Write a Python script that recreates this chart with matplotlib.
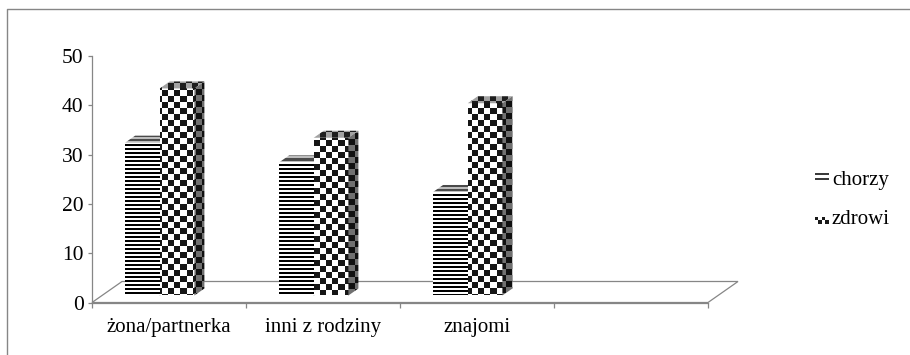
import numpy as np
import matplotlib
matplotlib.use("Agg")
import matplotlib.pyplot as plt
from matplotlib.patches import Polygon, Rectangle
from matplotlib.colors import ListedColormap

# ---- data -------------------------------------------------------------
categories = ["żona/partnerka", "inni z rodziny", "znajomi", ""]
series_names = ["chorzy", "zdrowi"]
chorzy = [31, 27, 21]
zdrowi = [42, 32, 39]
y_ticks = [0, 10, 20, 30, 40, 50]

# ---- figure / axes ----------------------------------------------------
W, H, DPI = 910, 355, 100
plt.rcParams["font.family"] = ["Liberation Serif", "DejaVu Serif"]
fig = plt.figure(figsize=(W / DPI, H / DPI), dpi=DPI)
fig.patch.set_facecolor("white")

X0, X1, Y0, Y1 = 92, 708, 302.5, 56          # plot box in pixels
ax = fig.add_axes([X0 / W, 1 - Y0 / H, (X1 - X0) / W, (Y0 - Y1) / H])
ax.set_xlim(-0.5, len(categories) - 0.5)
ax.set_ylim(y_ticks[0], y_ticks[-1])
ax.set_autoscale_on(False)
ax.patch.set_alpha(0)

sx = (X1 - X0) / len(categories)              # px per category
sy = (Y0 - Y1) / (y_ticks[-1] - y_ticks[0])   # px per value unit

# floor depth (oblique projection) in data units
DX, DY = 30 / sx, 21 / sy
BDX, BDY = DX / 3, DY / 3                      # bar depth, bars sit in middle third
bw = 0.225                                     # bar width (category units)
grp_shift = -0.35                              # left edge of group relative to centre

GREY = "#868686"


def pattern_fill(patch, kind, c0, c1, cell, z):
    """Fill a patch with a pixel pattern (stripes or checker) clipped to it."""
    patch.set_facecolor("none")
    patch.set_edgecolor("none")
    ax.add_patch(patch)
    verts = ax.transData.transform(patch.get_path().vertices
                                   if not isinstance(patch, Rectangle)
                                   else patch.get_patch_transform().transform(
                                       patch.get_path().vertices))
    xmin, ymin = np.floor(verts.min(axis=0))
    xmax, ymax = np.ceil(verts.max(axis=0))
    cols, rows = int(xmax - xmin), int(ymax - ymin)
    r, c = np.indices((rows, cols))
    if kind == "stripes":
        arr = ((r + int(ymax)) % cell < cell // 2).astype(float)
    else:
        arr = (((r + int(ymax)) // cell + (c - int(xmin)) // cell) % 2).astype(float)
    inv = ax.transData.inverted()
    (ex0, ey0), (ex1, ey1) = inv.transform([(xmin, ymin), (xmax, ymax)])
    im = ax.imshow(arr, extent=(ex0, ex1, ey0, ey1), origin="upper",
                   cmap=ListedColormap([c0, c1]), vmin=0, vmax=1,
                   interpolation="nearest", aspect="auto", zorder=z)
    im.set_clip_path(patch)
    im.set_clip_on(True)
    return im


def faces(x, w, h, base):
    front = Rectangle((x, base), w, h)
    top = Polygon([(x, base + h), (x + w, base + h),
                   (x + w + BDX, base + h + BDY), (x + BDX, base + h + BDY)],
                  closed=True)
    side = Polygon([(x + w, base), (x + w + BDX, base + BDY),
                    (x + w + BDX, base + h + BDY), (x + w, base + h)],
                   closed=True)
    return front, top, side


# ---- floor --------------------------------------------------------------
n = len(categories)
floor = Polygon([(-0.5, 0), (n - 0.5, 0), (n - 0.5 + DX, DY), (-0.5 + DX, DY)],
                closed=True, facecolor="none", edgecolor=GREY, lw=0.9,
                clip_on=False, zorder=1)
ax.add_patch(floor)

# ---- bars ---------------------------------------------------------------
for i in range(len(chorzy)):
    left = i + BDX + grp_shift
    f, t, s = faces(left, bw, chorzy[i], BDY)
    pattern_fill(s, "stripes", "#b0b0b0", "#2a2a2a", 4, 3)
    pattern_fill(t, "stripes", "#bdbdbd", "#4a4a4a", 4, 3)
    pattern_fill(f, "stripes", "white", "black", 4, 3)

    f, t, s = faces(left + bw, bw, zdrowi[i], BDY)
    pattern_fill(f, "checker", "white", "#161616", 6, 4)
    pattern_fill(t, "checker", "#a2a2a2", "#1e1e1e", 6, 4)
    pattern_fill(s, "checker", "#707070", "#101010", 6, 4)

# ---- axes styling -------------------------------------------------------
for sp in ["top", "right"]:
    ax.spines[sp].set_visible(False)
ax.spines["left"].set_color(GREY)
ax.spines["bottom"].set_color(GREY)
ax.spines["left"].set_linewidth(0.9)
ax.spines["bottom"].set_linewidth(0.9)
ax.spines["left"].set_zorder(0.5)

ax.set_yticks(y_ticks)
ax.set_yticklabels([str(v) for v in y_ticks], fontsize=15.5)
ax.tick_params(axis="y", direction="out", length=3, width=0.9, color=GREY,
               pad=3)

ax.set_xticks(range(n))
ax.set_xticklabels(categories, fontsize=15)
ax.set_xticks(np.arange(-0.5, n, 1.0), minor=True)
ax.tick_params(axis="x", which="major", length=0, pad=11)
ax.tick_params(axis="x", which="minor", direction="out", length=3.5,
               width=0.9, color=GREY)

# ---- overlay: chart frame and legend -----------------------------------
ov = fig.add_axes([0, 0, 1, 1], zorder=-1)
ov.set_xlim(0, W)
ov.set_ylim(H, 0)
ov.axis("off")
ov.plot([7, 7, W], [H, 9, 9], color=GREY, lw=1.0, solid_capstyle="butt")

# legend: chorzy
for yy in (173.5, 178.5):
    ov.plot([815, 829], [yy, yy], color="black", lw=1.1,
            solid_capstyle="butt")
ov.text(832, 180, series_names[0], fontsize=15, va="center", ha="left")
# legend: zdrowi
sw = (np.indices((2, 4)).sum(axis=0) % 2).astype(float)
ov.imshow(sw, extent=(815, 829, 224.5, 217.5), cmap=ListedColormap(["#1a1a1a", "white"]),
          interpolation="nearest", aspect="auto")
ov.set_xlim(0, W)
ov.set_ylim(H, 0)
ov.text(832, 219, series_names[1], fontsize=15, va="center", ha="left")

ax.set_xlim(-0.5, n - 0.5)
ax.set_ylim(y_ticks[0], y_ticks[-1])

fig.savefig("out.png", dpi=DPI, facecolor="white")
